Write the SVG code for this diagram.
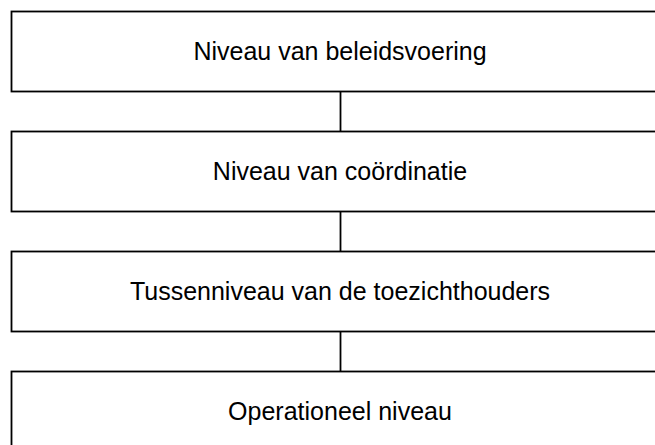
<svg xmlns="http://www.w3.org/2000/svg" width="655" height="445" viewBox="0 0 655 445">
<style>
.box{fill:#fff;stroke:#000;stroke-width:1.8}
.lbl{font-family:"Liberation Sans",Arial,sans-serif;font-size:25px;fill:#000;text-anchor:middle}
.con{stroke:#000;stroke-width:1.8;fill:none}
</style>
<rect width="655" height="445" fill="#fff"/>
<g id="connectors">
<line class="con" x1="340.5" y1="91.5" x2="340.5" y2="131.5"/>
<line class="con" x1="340.5" y1="211.5" x2="340.5" y2="251.5"/>
<line class="con" x1="340.5" y1="331.5" x2="340.5" y2="371.5"/>
</g>
<g id="n1"><rect class="box" x="11.5" y="11.5" width="658" height="80"/><text class="lbl" x="340" y="60">Niveau van beleidsvoering</text></g>
<g id="n2"><rect class="box" x="11.5" y="131.5" width="658" height="80"/><text class="lbl" x="340" y="180">Niveau van coördinatie</text></g>
<g id="n3"><rect class="box" x="11.5" y="251.5" width="658" height="80"/><text class="lbl" x="340" y="300">Tussenniveau van de toezichthouders</text></g>
<g id="n4"><rect class="box" x="11.5" y="371.5" width="658" height="80"/><text class="lbl" x="340" y="420">Operationeel niveau</text></g>
</svg>
